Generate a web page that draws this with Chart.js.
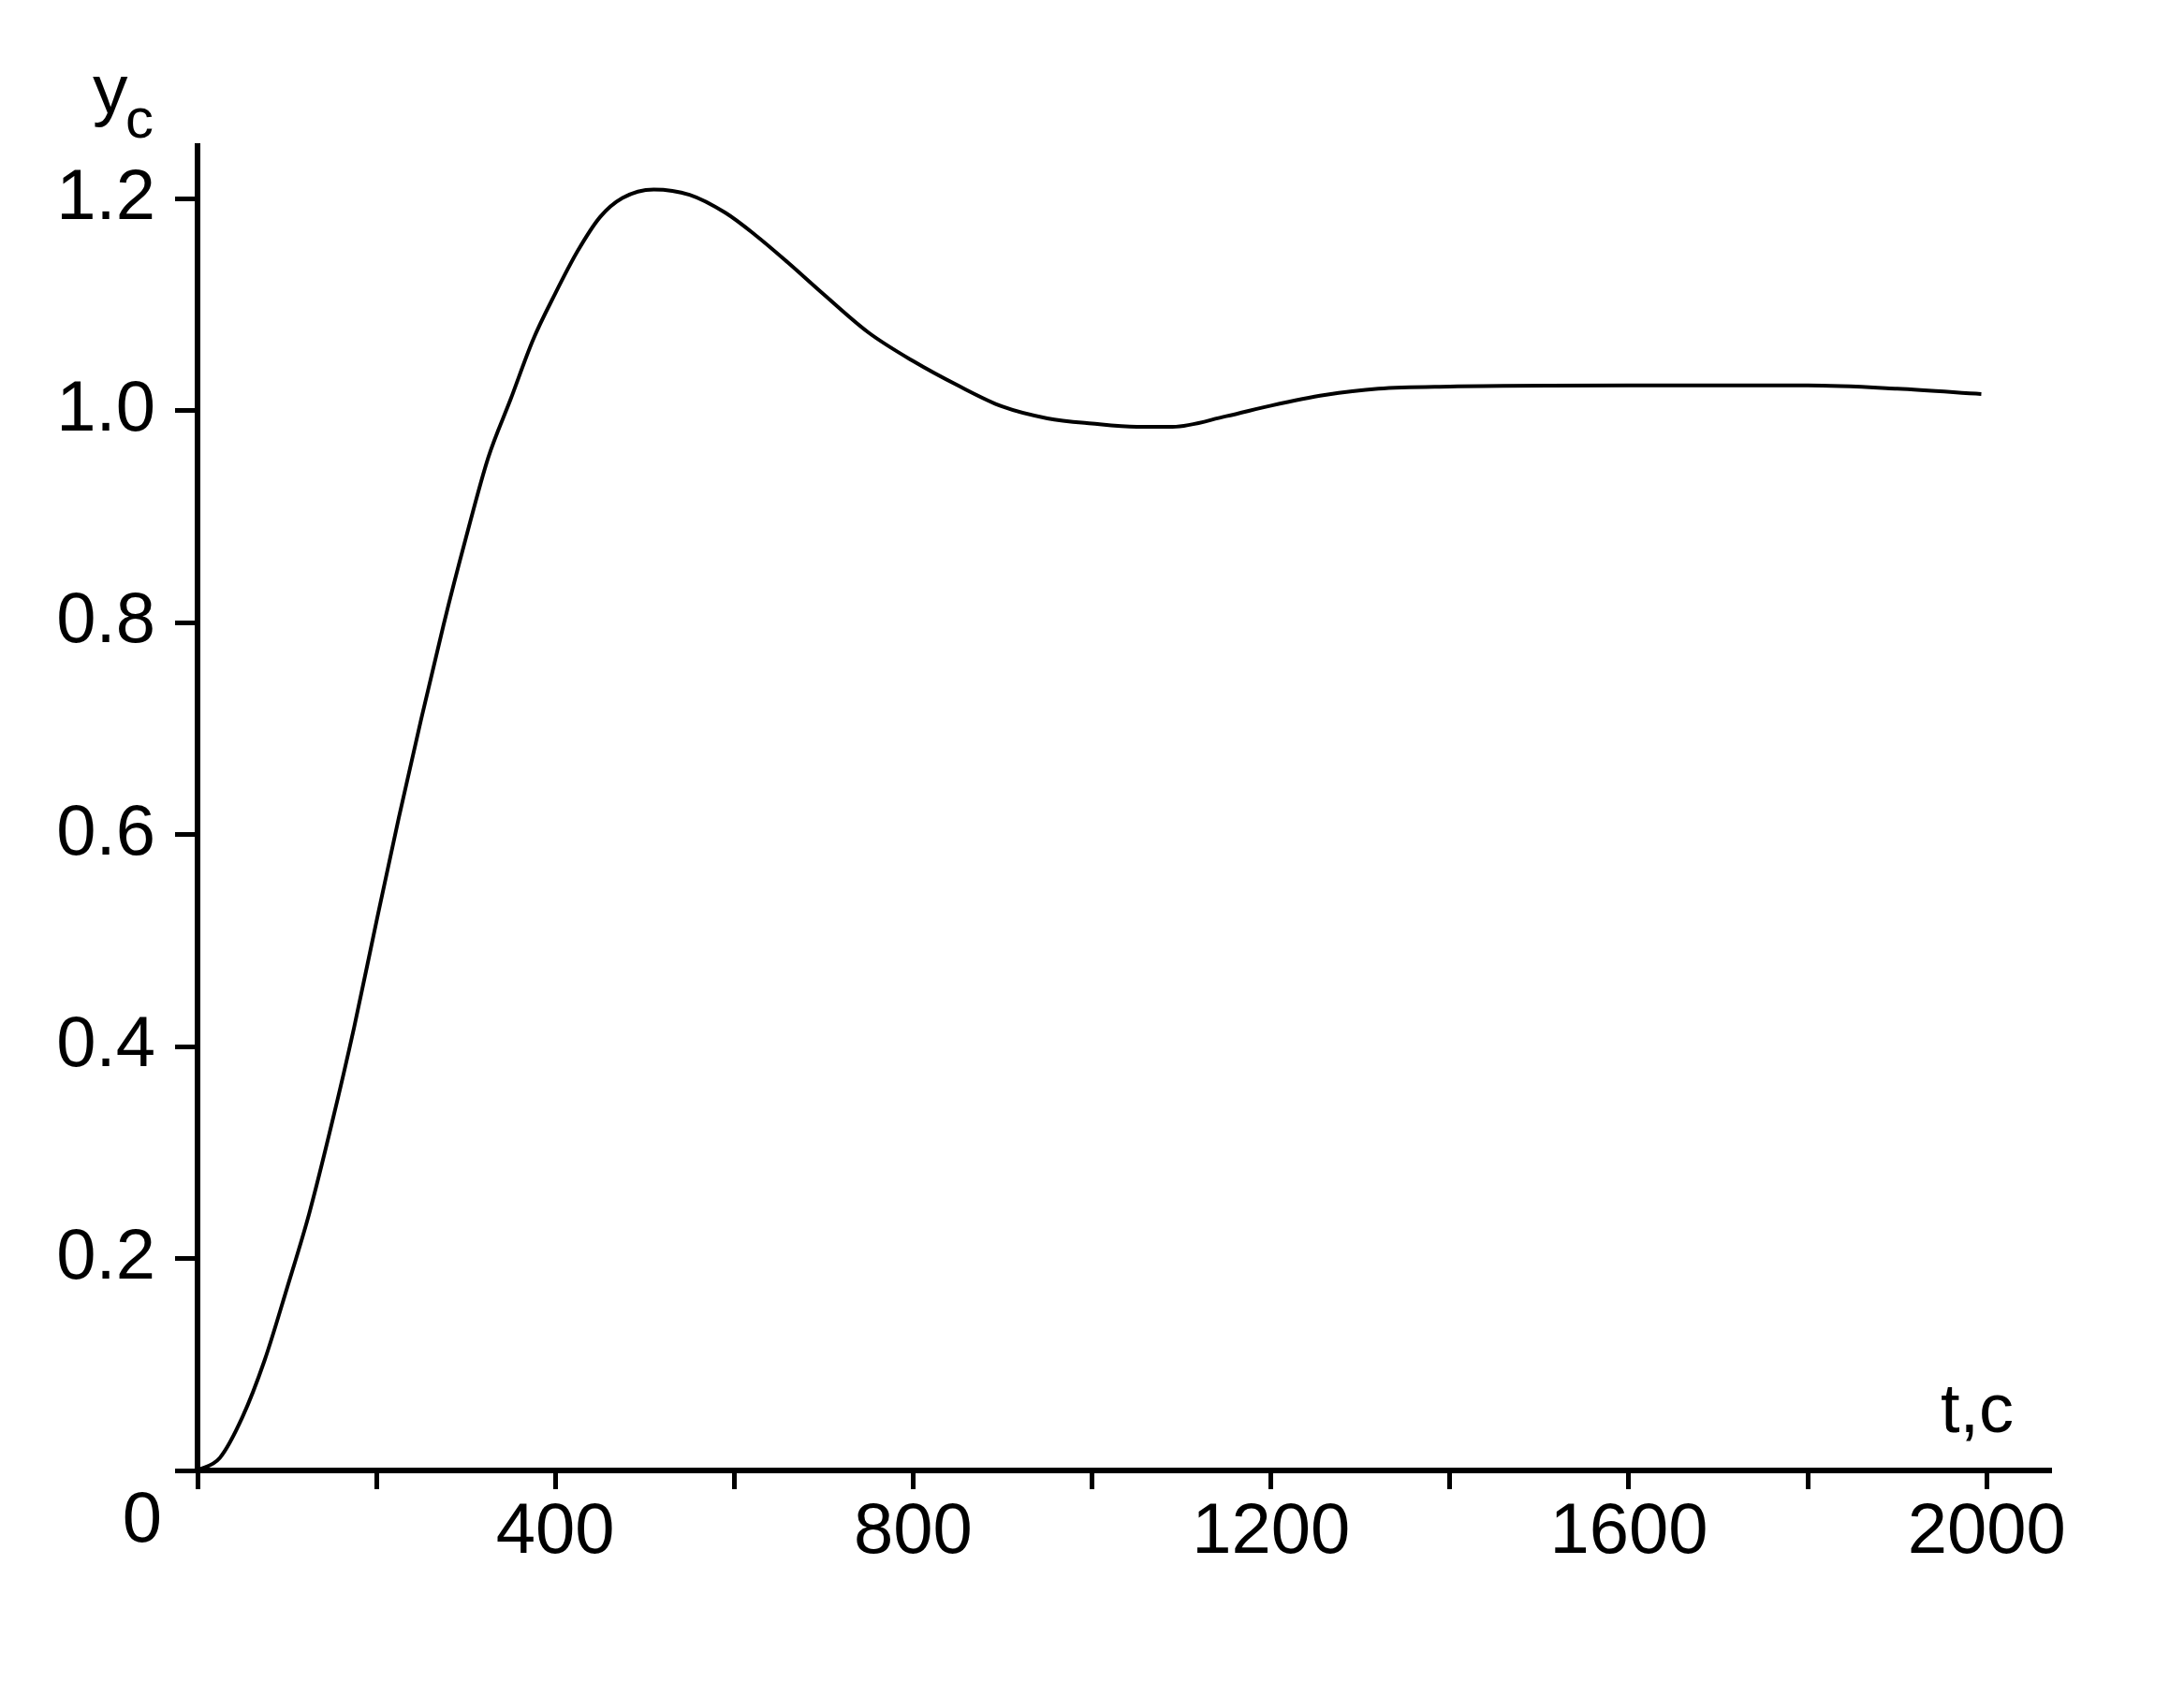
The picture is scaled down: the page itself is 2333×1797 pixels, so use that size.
<!DOCTYPE html>
<html lang="ru">
<head>
    <meta charset="UTF-8">
    <title>y_c(t)</title>
    <script src="https://cdn.jsdelivr.net/npm/chart.js@4.4.1/dist/chart.umd.min.js"></script>
    <style>
        html, body { margin: 0; padding: 0; background: #fff; }
        #wrap { width: 2333px; height: 1797px; position: relative; }
    </style>
</head>
<body>
    <div id="wrap"><canvas id="plot"></canvas></div>

    <script>
        // values
        const timeValues = [0, 25, 50, 75, 100, 125, 150, 175, 200, 225, 250, 275, 300, 325, 350, 375, 400, 425, 450, 475,
            510, 550, 590, 625, 660, 700, 750, 800, 850, 900, 950, 1000, 1050, 1090, 1150, 1200, 1260, 1320, 1400, 1600,
            1800, 1900, 1994];
        const ycValues = [0, 0.012, 0.050, 0.104, 0.172, 0.243, 0.327, 0.418, 0.518, 0.616, 0.709, 0.798, 0.880, 0.956, 1.011, 1.067, 1.111, 1.151, 1.183, 1.201,
            1.209, 1.204, 1.187, 1.165, 1.140, 1.110, 1.074, 1.047, 1.024, 1.004, 0.993, 0.988, 0.985, 0.985, 0.995, 1.005, 1.015, 1.021, 1.023, 1.024,
            1.024, 1.021, 1.016];

        const xTicks = [0, 200, 400, 600, 800, 1000, 1200, 1400, 1600, 1800, 2000];
        const xLabels = ['', '', '400', '', '800', '', '1200', '', '1600', '', '2000'];
        const yTicks = [0, 0.2, 0.4, 0.6, 0.8, 1.0, 1.2];
        const yLabels = ['', '0.2', '0.4', '0.6', '0.8', '1.0', '1.2'];

        const FONT = '"Liberation Sans", Arial, sans-serif';

        // axis names and the lone origin "0"
        const axisText = {
            id: 'axisText',
            afterDraw(chart) {
                const c = chart.ctx;
                c.save();
                c.fillStyle = '#000';
                c.textBaseline = 'alphabetic';
                c.textAlign = 'left';
                c.font = '75px ' + FONT;
                c.fillText('y', 99, 121);
                c.font = '60px ' + FONT;
                c.fillText('c', 134, 147);
                c.font = '74px ' + FONT;
                c.fillText('t,c', 2073, 1530);
                c.font = '76px ' + FONT;
                c.textAlign = 'center';
                c.fillText('0', 152, 1647);
                c.restore();
            }
        };

        const ctx = document.getElementById('plot').getContext('2d');
        new Chart(ctx, {
            type: 'line',
            data: {
                datasets: [{
                    data: timeValues.map((t, i) => ({ x: t, y: ycValues[i] })),
                    borderColor: '#000',
                    borderWidth: 4,
                    pointRadius: 0,
                    fill: false,
                    cubicInterpolationMode: 'monotone'
                }]
            },
            options: {
                responsive: true,
                maintainAspectRatio: false,
                animation: false,
                layout: { padding: { left: 0, top: 156, right: 142, bottom: 0 } },
                plugins: {
                    legend: { display: false },
                    tooltip: { enabled: false }
                },
                scales: {
                    x: {
                        type: 'linear',
                        min: 0,
                        max: 2072,
                        afterBuildTicks: (s) => { s.ticks = xTicks.map(v => ({ value: v })); },
                        afterFit: (s) => { s.height = 226; },
                        border: { display: true, color: '#000', width: 6 },
                        grid: { drawOnChartArea: false, drawTicks: true, tickLength: 20, tickWidth: 5, tickColor: '#000' },
                        ticks: {
                            autoSkip: false,
                            maxRotation: 0,
                            padding: 1,
                            color: '#000',
                            font: { family: FONT, size: 76 },
                            callback: (v) => xLabels[xTicks.indexOf(v)] ?? ''
                        }
                    },
                    y: {
                        min: 0,
                        max: 1.25,
                        afterBuildTicks: (s) => { s.ticks = yTicks.map(v => ({ value: v })); },
                        afterFit: (s) => { s.width = 211; },
                        border: { display: true, color: '#000', width: 6 },
                        grid: { drawOnChartArea: false, drawTicks: true, tickLength: 24, tickWidth: 5, tickColor: '#000' },
                        ticks: {
                            autoSkip: false,
                            padding: 21,
                            color: '#000',
                            font: { family: FONT, size: 76 },
                            callback: (v) => yLabels[yTicks.findIndex(t => Math.abs(t - v) < 1e-9)] ?? ''
                        }
                    }
                }
            },
            plugins: [axisText]
        });
    </script>
</body>
</html>
